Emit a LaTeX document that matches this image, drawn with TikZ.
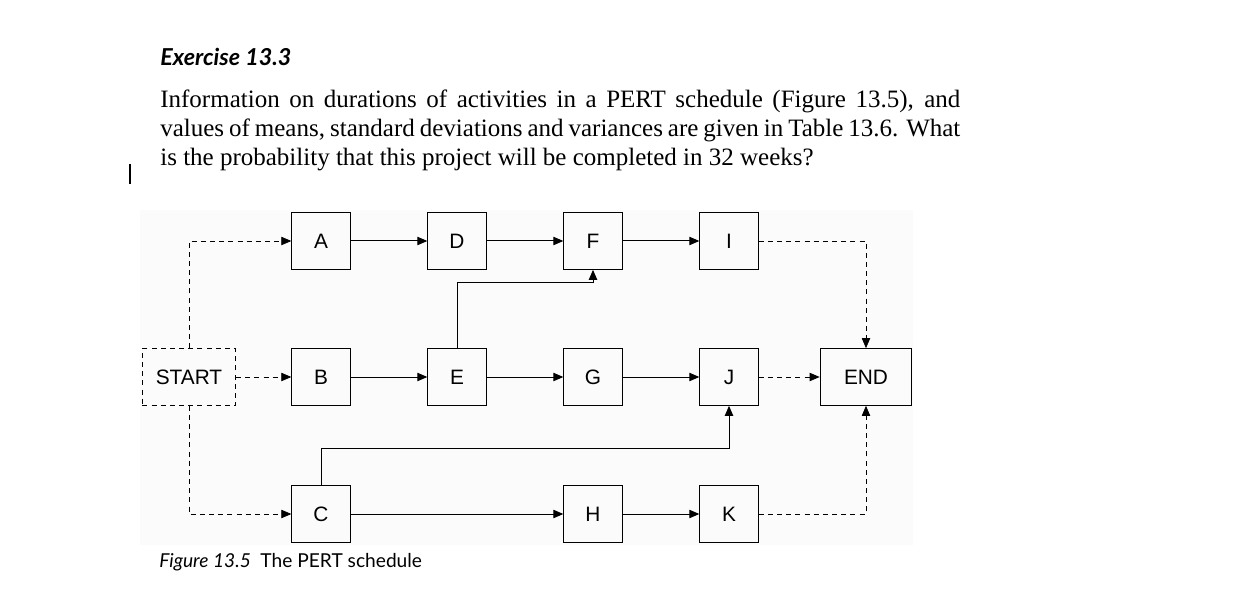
\documentclass[tikz,border=0pt]{standalone}
\usepackage{fontspec}
\setmainfont{Liberation Serif}
\newfontfamily\boxfont{Liberation Sans}
\newfontfamily\headfont{Lato}
\usetikzlibrary{positioning,arrows.meta}

\begin{document}
\begin{tikzpicture}
		[x=0.6pt, y=-0.6pt,
		task/.style={draw=black, semithick, minimum width=35pt, minimum height=34pt, inner sep=0pt, font=\boxfont\fontsize{12.5}{14}\selectfont},
		flow/.style={semithick, -{Triangle[length=6pt, width=5pt]}},
		dflow/.style={flow, dashed, dash pattern=on 3pt off 2.5pt, thin},
		para/.style={anchor=west, inner sep=0pt, font=\fontsize{15}{18}\selectfont}]
		\useasboundingbox (0,0) rectangle (1258,612);
		\fill[gray!3] (140,210) rectangle (913,545);
		% heading and text
		\node[anchor=west, inner sep=0pt, font=\headfont\bfseries\itshape\fontsize{14}{16}\selectfont] (title) at (160,57) {Exercise 13.3};
		\node[para] (l1) at (160,101) {\makebox[480pt][s]{Information on durations of activities in a PERT schedule (Figure 13.5), and}};
		\node[para] (l2) at (160,130) {\makebox[480pt][s]{values of means, standard deviations and variances are given in Table 13.6. What}};
		\node[para] (l3) at (160,160) {is the probability that this project will be completed in 32 weeks?};
		\draw[thick] (130,164) -- (130,184);
		% activities
		\node[task] (A) at (321,241) {A};
		\node[task] (D) at (457,241) {D};
		\node[task] (F) at (593,241) {F};
		\node[task] (I) at (729,241) {I};
		\node[task, dashed, thin, dash pattern=on 3pt off 2.5pt, minimum width=56pt] (start) at (189,377) {START};
		\node[task] (B) at (321,377) {B};
		\node[task] (E) at (457,377) {E};
		\node[task] (G) at (593,377) {G};
		\node[task] (J) at (729,377) {J};
		\node[task, minimum width=55pt] (end) at (866,377) {END};
		\node[task] (C) at (321,514) {C};
		\node[task] (H) at (593,514) {H};
		\node[task] (K) at (729,514) {K};
		\node[anchor=west, inner sep=0pt, font=\headfont\fontsize{11.5}{13}\selectfont] (cap) at (159,562) {\textit{Figure 13.5}\hspace{0.5em}The PERT schedule};

		\draw[dflow] (start.north) |- (A);
		\draw[dflow] (start) -- (B);
		\draw[dflow] (start.south) |- (C);
		\draw[flow] (A) -- (D);
		\draw[flow] (D) -- (F);
		\draw[flow] (F) -- (I);
		\draw[dflow] (I) -| (end.north);
		\draw[flow] (B) -- (E);
		\draw[flow] (E) -- (G);
		\draw[flow] (G) -- (J);
		\draw[dflow] (J) -- (end);
		\draw[flow] (E.north) -- ++(0,-66) -| (F.south);
		\draw[flow] (C.north) -- ++(0,-37) -| (J.south);
		\draw[flow] (C) -- (H);
		\draw[flow] (H) -- (K);
		\draw[dflow] (K) -| (end.south);
	\end{tikzpicture}
\end{document}
